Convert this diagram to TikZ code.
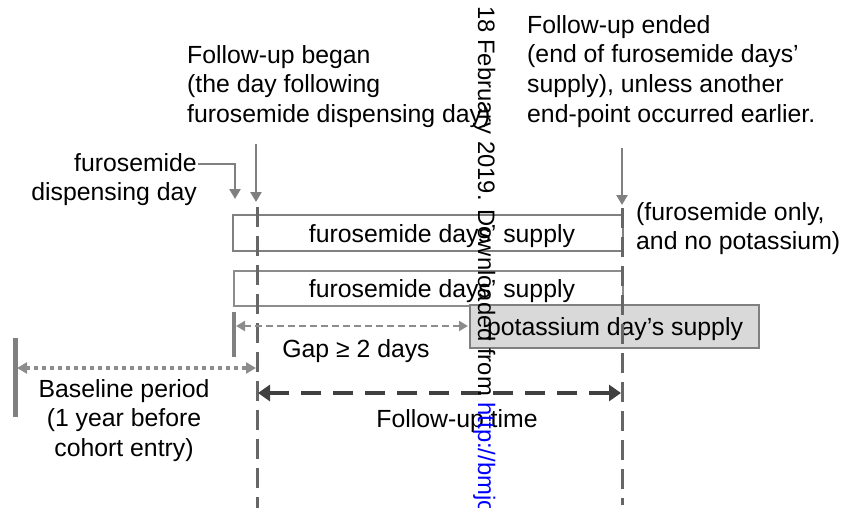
\documentclass[tikz,border=0pt]{standalone}
\usepackage{fontspec}
\setmainfont{Liberation Sans}
\usetikzlibrary{arrows.meta}
\definecolor{lgray}{HTML}{808080}
\definecolor{mgray}{HTML}{8C8C8C}
\definecolor{vgray}{HTML}{666666}
\definecolor{dgray}{HTML}{404040}
\definecolor{kfill}{HTML}{D9D9D9}
\definecolor{urlblue}{HTML}{0000FF}
\tikzset{
  txt/.style={font=\fontsize{24.8pt}{29.8pt}\selectfont, inner sep=0pt, text=black},
  supbox/.style={draw=lgray, line width=2pt, fill=white, inner sep=0pt, anchor=north west},
  potbox/.style={draw=lgray, line width=2pt, fill=kfill, inner sep=0pt, anchor=north west},
  pointer/.style={draw=lgray, line width=2.5pt, -{Triangle[length=10pt,width=11pt]}},
  vline/.style={draw=vgray, line width=3pt, dash pattern=on 20pt off 9pt},
  bar/.style={draw=lgray, line width=4.5pt},
  gaparrow/.style={draw=mgray, line width=2.5pt, dash pattern=on 7pt off 4pt,
    {Triangle[length=9pt,width=10pt]}-{Triangle[length=9pt,width=10pt]}},
  basearrow/.style={draw=mgray, line width=4pt, dash pattern=on 4pt off 4pt,
    {Triangle[length=10pt,width=11pt]}-{Triangle[length=10pt,width=11pt]}},
  fuarrow/.style={draw=dgray, line width=4pt, dash pattern=on 20pt off 12pt,
    {Triangle[length=12pt,width=16pt]}-{Triangle[length=12pt,width=16pt]}},
}
\begin{document}
\begin{tikzpicture}[x=1pt,y=-1pt]
\useasboundingbox (0,0) rectangle (857,508);

% top texts
\node[txt, align=left, anchor=north west] (began) at (187,45)
  {Follow-up began\\(the day following\\furosemide dispensing day)};
\node[txt, align=left, anchor=north west] (ended) at (527,15)
  {Follow-up ended\\(end of furosemide days’\\supply), unless another\\end-point occurred earlier.};
\node[txt, align=right, anchor=north east] (fdd) at (197,153)
  {furosemide\\dispensing day};
\node[txt, align=left, anchor=north west] (only) at (636,202)
  {(furosemide only,\\and no potassium)};

% supply boxes
\node[supbox, minimum width=390pt, minimum height=36pt] (b1) at (232,214) {};
\node[supbox, line width=1.6pt, draw=mgray, minimum width=389pt, minimum height=35pt] (b2) at (233,270) {};
\node[potbox, minimum width=289pt, minimum height=43pt] (pk) at (469,304) {};
\node[txt, anchor=base] (b1t) at (442,242) {furosemide days’ supply};
\node[txt, anchor=base] (b2t) at (442,297) {furosemide days’ supply};
\node[txt, anchor=base] (pkt) at (615,335) {potassium day’s supply};

% vertical dashed lines
\coordinate (vLt) at (257,207);
\coordinate (vLb) at (257,508);
\coordinate (vRt) at (622,208);
\coordinate (vRb) at (622,505);
\draw[vline] (vLt) -- (vLb);
\draw[vline] (vRt) -- (vRb);

% pointers
\coordinate (beganA) at (256,144);
\coordinate (beganT) at (256,202);
\draw[pointer] (beganA) -- (beganT);
\coordinate (endedA) at (622,148);
\coordinate (endedT) at (622,205);
\draw[pointer] (endedA) -- (endedT);
\coordinate (fddA) at (198,164);
\coordinate (fddT) at (235,199);
\draw[pointer] (fddA) -| (fddT);

% gap
\coordinate (gapBt) at (234,312);
\coordinate (gapBb) at (234,357);
\draw[bar] (gapBt) -- (gapBb);
\coordinate (gapL) at (236,326);
\coordinate (gapR) at (468,326);
\draw[gaparrow] (gapL) -- (gapR);
\node[txt, anchor=base] (gapt) at (356,357) {Gap ≥ 2 days};

% baseline
\coordinate (baseBt) at (15,338);
\coordinate (baseBb) at (15,417);
\draw[bar, line width=5pt] (baseBt) -- (baseBb);
\coordinate (baseL) at (17,368);
\coordinate (baseR) at (256,368);
\draw[basearrow] (baseL) -- (baseR);
\node[txt, align=center, anchor=north] (baset) at (124,379)
  {Baseline period\\(1 year before\\cohort entry)};

% follow-up time
\coordinate (fuL) at (258,393);
\coordinate (fuR) at (621,393);
\draw[fuarrow] (fuL) -- (fuR);
\node[txt, anchor=base] (fut) at (457,427) {Follow-up time};

% watermark
\begin{scope}
\clip (0,0) rectangle (857,508);
\node[font=\fontsize{23.8pt}{28pt}\selectfont, inner sep=0pt, rotate=-90, anchor=base west] (wm) at (478,6)
  {18 February 2019. Downloaded from \textcolor{urlblue}{http://bmjopen.bmj.com/}};
\end{scope}
\end{tikzpicture}
\end{document}
